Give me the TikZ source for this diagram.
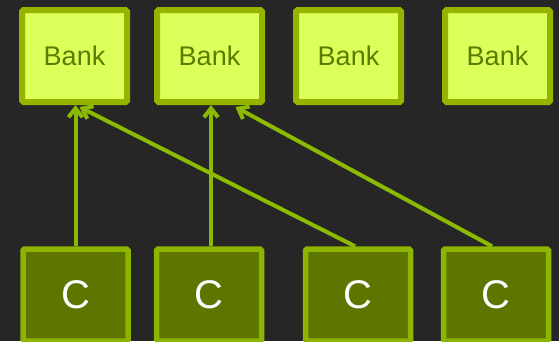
\documentclass[tikz,border=0pt]{standalone}
\usepackage{fontspec}
\setmainfont{Liberation Sans}
\usetikzlibrary{arrows.meta,calc}
\definecolor{bg}{HTML}{262626}
\definecolor{bankfill}{HTML}{DCFF5A}
\definecolor{bankborder}{HTML}{94B400}
\definecolor{banktext}{HTML}{5E7A00}
\definecolor{cfill}{HTML}{5E7600}
\definecolor{cborder}{HTML}{8CB400}
\definecolor{wire}{HTML}{8CBA00}
\tikzset{
  bankbox/.style={draw=bankborder, fill=bankfill, line width=6pt, rounded corners=1.5pt,
    minimum width=105pt, minimum height=92pt, inner sep=0pt, text=banktext,
    font=\fontsize{27}{27}\selectfont},
  corebox/.style={draw=cborder, fill=cfill, line width=5.5pt, rounded corners=1.5pt,
    minimum width=105pt, minimum height=92pt, inner sep=0pt, text=white,
    font=\fontsize{40}{40}\selectfont},
  wirearrow/.style={draw=wire, line width=4pt,
    -{Straight Barb[length=9pt,width=14pt]}},
}
\begin{document}
\begin{tikzpicture}[x=1pt,y=1pt]
\useasboundingbox (0,0) rectangle (559,-341);
\clip (0,0) rectangle (559,-341);
\fill[bg] (0,0) rectangle (559,-341);
\node[bankbox] (b1) at (74.5,-56) {Bank};
\node[bankbox] (b2) at (209.5,-56) {Bank};
\node[bankbox] (b3) at (348.5,-56) {Bank};
\node[bankbox] (b4) at (497.5,-56) {Bank};
\node[corebox] (c1) at (75.5,-295) {C};
\node[corebox] (c2) at (209,-295) {C};
\node[corebox] (c3) at (358,-295) {C};
\node[corebox] (c4) at (496,-295) {C};
\coordinate (c2top) at ($(c2.north)+(2,0)$);
\coordinate (c3top) at ($(c3.north)+(-3,0)$);
\coordinate (c4top) at ($(c4.north)+(-4,0)$);
\coordinate (b1diag) at ($(b1.south)+(5,-2)$);
\coordinate (b2diag) at ($(b2.south)+(26,-2)$);
\draw[wirearrow] (c1.north) -- (c1.north |- b1.south);
\draw[wirearrow] (c3top) -- (b1diag);
\draw[wirearrow] (c2top) -- (c2top |- b2.south);
\draw[wirearrow] (c4top) -- (b2diag);
\end{tikzpicture}
\end{document}
